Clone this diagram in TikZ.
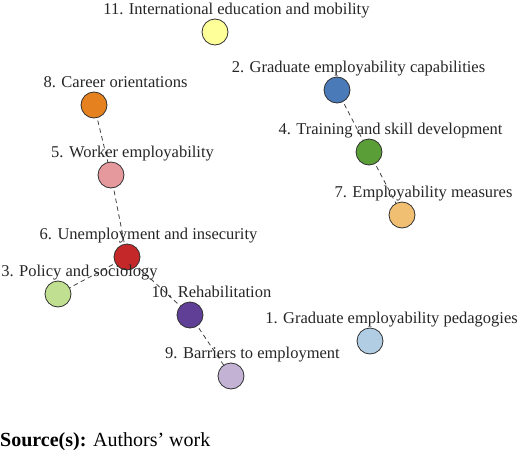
\documentclass[tikz,border=0pt]{standalone}
\usepackage{fontspec}
\setmainfont{Liberation Serif}
\definecolor{c1}{HTML}{B0CDE4}
\definecolor{c2}{HTML}{4A7BB8}
\definecolor{c3}{HTML}{C0DF90}
\definecolor{c4}{HTML}{5A9E38}
\definecolor{c5}{HTML}{E5999C}
\definecolor{c6}{HTML}{C52828}
\definecolor{c7}{HTML}{F0BF72}
\definecolor{c8}{HTML}{E5821F}
\definecolor{c9}{HTML}{C4B2D5}
\definecolor{c10}{HTML}{603F97}
\definecolor{c11}{HTML}{FFFF99}
\definecolor{edgegray}{HTML}{404040}
\definecolor{rimgray}{HTML}{303030}
\tikzset{
  topic/.style={circle, draw=rimgray, line width=0.8pt, minimum size=26pt, inner sep=0pt, fill=#1},
  toplabel/.style={anchor=base, inner sep=0pt, font=\fontsize{16.5}{18}\selectfont, text=black!85},
  link/.style={draw=edgegray, line width=0.8pt, dash pattern=on 4.5pt off 3.5pt},
}
\begin{document}
\begin{tikzpicture}[x=1pt, y=-1pt]
\useasboundingbox (0,0) rectangle (520,450);
% node centres
\coordinate (p1) at (370,341);
\coordinate (p2) at (337,90);
\coordinate (p3) at (58,294);
\coordinate (p4) at (369,152);
\coordinate (p5) at (111,175);
\coordinate (p6) at (127,257);
\coordinate (p7) at (402,215);
\coordinate (p8) at (94,105);
\coordinate (p9) at (231,376);
\coordinate (p10) at (190,315);
\coordinate (p11) at (215,32);
% edges
\draw[link] (p8) -- (p5);
\draw[link] (p5) -- (p6);
\draw[link] (p6) -- (p3);
\draw[link] (p6) -- (p10);
\draw[link] (p10) -- (p9);
\draw[link] (p2) -- (p4);
\draw[link] (p4) -- (p7);
% circles
\foreach \i in {1,...,11} {
  \node[topic=c\i] (n\i) at (p\i) {};
}
% labels
\node[toplabel] (l11) at ([shift={(21.5,-17.5)}]p11) {11. International education and mobility};
\node[toplabel] (l2) at ([shift={(21.5,-17.5)}]p2) {2. Graduate employability capabilities};
\node[toplabel] (l8) at ([shift={(21.5,-17.5)}]p8) {8. Career orientations};
\node[toplabel] (l4) at ([shift={(21.5,-17.5)}]p4) {4. Training and skill development};
\node[toplabel] (l5) at ([shift={(21.5,-17.5)}]p5) {5. Worker employability};
\node[toplabel] (l7) at ([shift={(21.5,-17.5)}]p7) {7. Employability measures};
\node[toplabel] (l6) at ([shift={(21.5,-17.5)}]p6) {6. Unemployment and insecurity};
\node[toplabel] (l3) at ([shift={(21.5,-17.5)}]p3) {3. Policy and sociology};
\node[toplabel] (l10) at ([shift={(21.5,-17.5)}]p10) {10. Rehabilitation};
\node[toplabel] (l1) at ([shift={(21.5,-17.5)}]p1) {1. Graduate employability pedagogies};
\node[toplabel] (l9) at ([shift={(21.5,-17.5)}]p9) {9. Barriers to employment};
% source
\node[anchor=base west, inner sep=0pt, font=\fontsize{20}{22}\selectfont] (src) at (0,446) {\textbf{Source(s):} Authors’ work};
\end{tikzpicture}
\end{document}
